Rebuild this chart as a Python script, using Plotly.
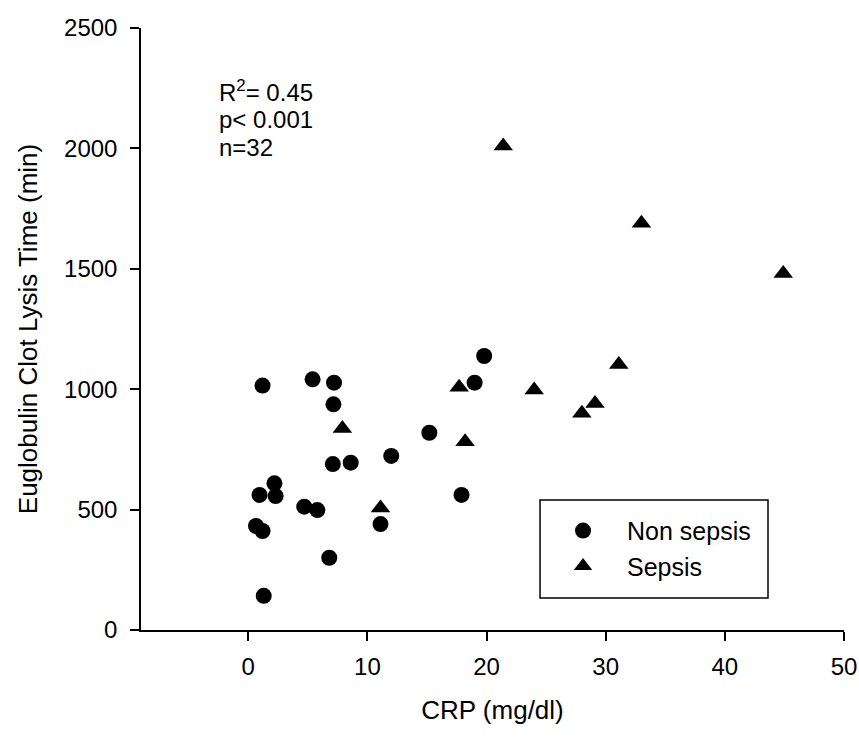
import plotly.graph_objects as go

# CRP (mg/dl) vs euglobulin clot lysis time (min)
non_sepsis_crp = [1.2, 5.4, 7.2, 7.15, 15.2, 12.0, 7.1, 8.6, 2.2, 0.95, 2.3,
                  4.7, 5.8, 11.1, 0.65, 1.2, 6.8, 1.3, 19.8, 19.0, 17.9]
non_sepsis_eclt = [1015, 1041, 1027, 937, 819, 723, 689, 695, 609, 561, 556,
                   512, 498, 440, 432, 411, 300, 142, 1138, 1027, 561]

sepsis_crp = [7.9, 11.1, 21.4, 33.0, 44.9, 17.7, 24.0, 31.1, 29.1, 28.0, 18.2]
sepsis_eclt = [837, 507, 2010, 1689, 1481, 1008, 997, 1103, 941, 900, 782]

x_ticks = [0, 10, 20, 30, 40, 50]
y_ticks = [0, 500, 1000, 1500, 2000, 2500]
stats_lines = ["R<sup>2</sup>= 0.45", "p< 0.001", "n=32"]

FONT = "Liberation Sans, Arial, sans-serif"

fig = go.Figure()
fig.add_trace(go.Scatter(x=non_sepsis_crp, y=non_sepsis_eclt, mode="markers",
                         name="Non sepsis",
                         marker=dict(symbol="circle", size=16, color="black")))
fig.add_trace(go.Scatter(x=sepsis_crp, y=sepsis_eclt, mode="markers",
                         name="Sepsis",
                         marker=dict(symbol="triangle-up", size=17, color="black")))

# stats text, one annotation per line
for i, txt in enumerate(stats_lines):
    fig.add_annotation(x=-2.6, y=2238 - i * 117, xref="x", yref="y", text=txt,
                       showarrow=False, xanchor="left", yanchor="middle",
                       font=dict(size=24, color="black", family=FONT))

# legend frame
fig.add_shape(type="rect", xref="paper", yref="paper",
              x0=0.5676, x1=0.8919, y0=0.0532, y1=0.2159,
              line=dict(color="black", width=1.5), fillcolor="rgba(0,0,0,0)")
# x axis line runs a little past the y axis, as in the original
fig.add_shape(type="line", xref="paper", yref="paper",
              x0=-0.014, x1=0, y0=0, y1=0, line=dict(color="black", width=1.5))

fig.update_layout(
    width=859, height=738,
    margin=dict(l=141, r=15, t=28, b=108),
    paper_bgcolor="white", plot_bgcolor="white",
    font=dict(family=FONT, color="black", size=24),
    showlegend=True,
    legend=dict(x=0.5662, y=0.203, xanchor="left", yanchor="top",
                bgcolor="rgba(0,0,0,0)", borderwidth=0, itemwidth=78,
                font=dict(size=25, family=FONT, color="black")),
    xaxis=dict(range=[-9, 50], tickvals=x_ticks, ticks="outside", ticklen=9,
               tickwidth=1.5, tickcolor="black", showline=True, linecolor="black",
               linewidth=1.5, showgrid=False, zeroline=False, automargin=False,
               ticklabelstandoff=5,
               tickfont=dict(size=24, family=FONT),
               title=dict(text="CRP (mg/dl)", standoff=22,
                          font=dict(size=26, family=FONT))),
    yaxis=dict(range=[0, 2500], tickvals=y_ticks, ticks="outside", ticklen=9,
               tickwidth=1.5, tickcolor="black", showline=True, linecolor="black",
               linewidth=1.5, showgrid=False, zeroline=False, automargin=False,
               ticklabelstandoff=8,
               tickfont=dict(size=24, family=FONT),
               title=dict(text="Euglobulin Clot Lysis Time (min)", standoff=19,
                          font=dict(size=26, family=FONT))),
)

# drop the default 8px page margin so the figure fills the window exactly
fig.write_html("out.html", config={"displayModeBar": False},
               post_script="document.body.style.margin='0';")
